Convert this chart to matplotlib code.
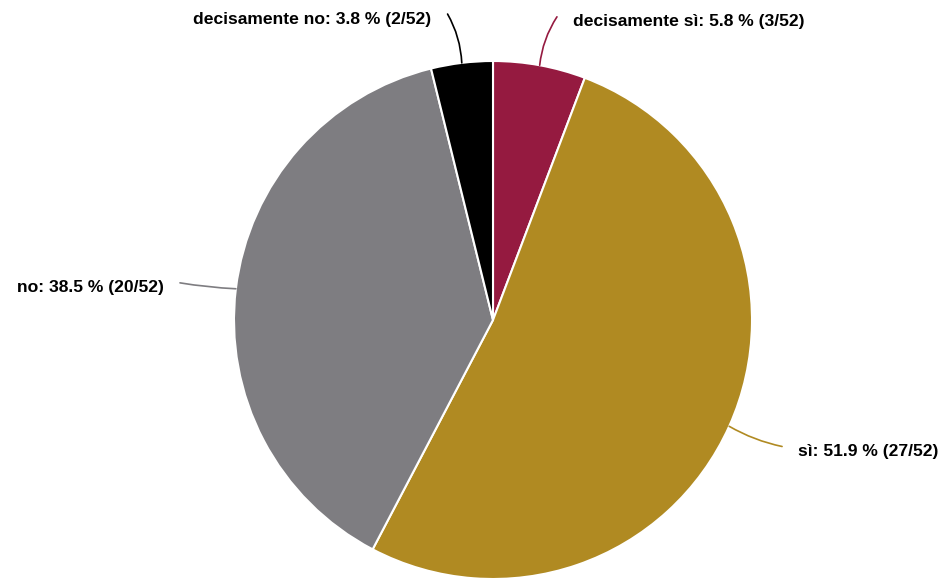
import numpy as np
import matplotlib.pyplot as plt

labels = ["decisamente sì", "sì", "no", "decisamente no"]
counts = [3, 27, 20, 2]
colors = ["#951a40", "#b08a22", "#7e7d81", "#000000"]

total = sum(counts)
W, H = 945, 579
cx, cy, R = 493, 259, 259

fig = plt.figure(figsize=(W / 100, H / 100), dpi=100)
ax = fig.add_axes([0, 0, 1, 1])

wedges, _ = ax.pie(counts, colors=colors, startangle=90, counterclock=False,
                   radius=R, center=(cx, cy), frame=False,
                   wedgeprops=dict(edgecolor="white", linewidth=1.5))
ax.set_xlim(0, W)
ax.set_ylim(0, H)
ax.set_aspect("equal")
ax.axis("off")

for w, lab, n, c in zip(wedges, labels, counts, colors):
    th = np.deg2rad((w.theta1 + w.theta2) / 2)
    ex, ey = cx + R * np.cos(th), cy + R * np.sin(th)
    right = np.cos(th) >= 0
    sgn = 1 if right else -1
    lx = cx + 1.2 * R * np.cos(th) + sgn * (4 + 4 * abs(np.sin(th)))
    ly = cy + 1.19 * R * np.sin(th)
    rad = -0.12 if right else 0.12
    if abs(np.sin(th)) < 0.5:
        rad = 0.08 if right else -0.03
    ax.annotate("", xy=(lx, ly), xytext=(ex, ey),
                arrowprops=dict(arrowstyle="-", color=c, lw=1.2,
                                shrinkA=0, shrinkB=0,
                                connectionstyle=f"arc3,rad={rad}"))
    txt = f"{lab}: {100 * n / total:.1f} % ({n}/{total})"
    ax.text(lx + sgn * 16, ly - 5, txt,
            ha="left" if right else "right", va="center",
            fontsize=12.6, fontweight="bold", family="Liberation Sans")

fig.savefig("out.png", dpi=100)
